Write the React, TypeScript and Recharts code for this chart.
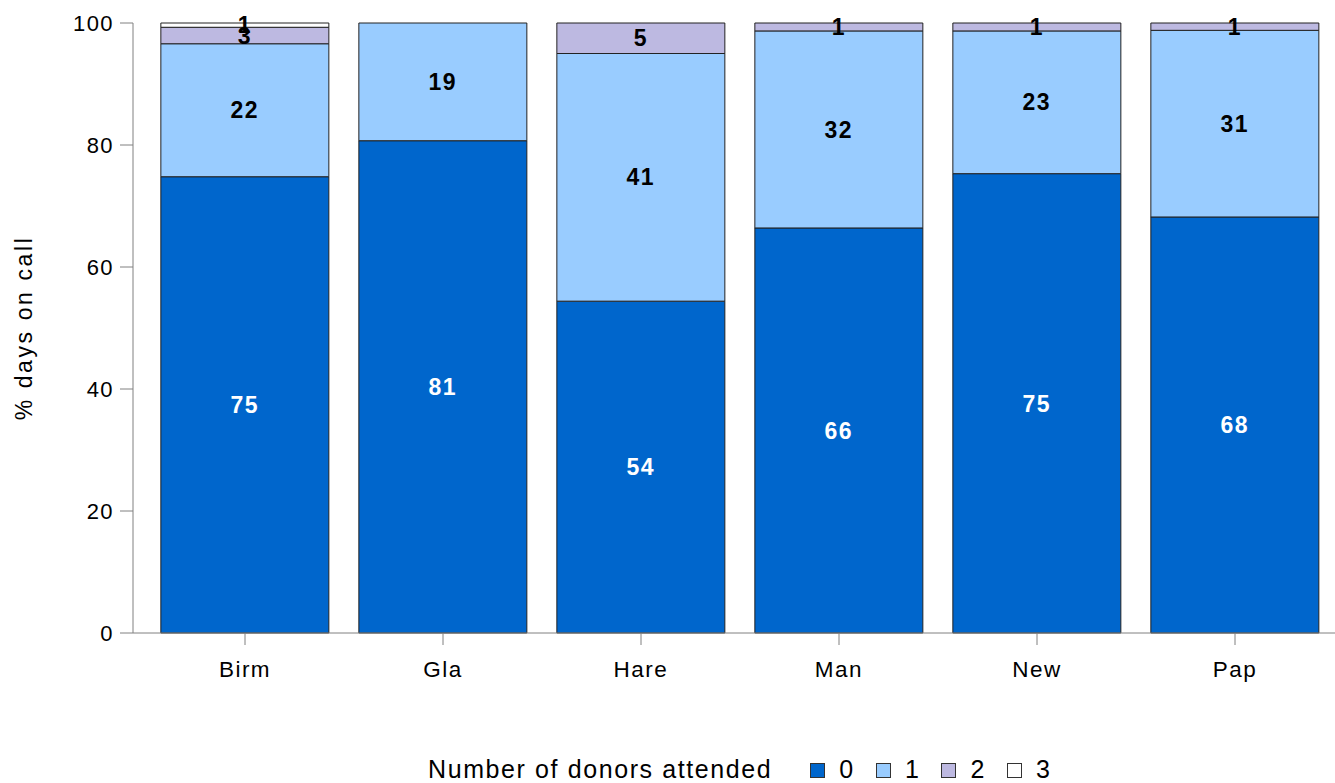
import React from "react";
import {
  BarChart,
  Bar,
  XAxis,
  YAxis,
  Legend,
  LabelList,
} from "recharts";

// Sites and share of on-call days by number of donors attended
const sites = ["Birm", "Gla", "Hare", "Man", "New", "Pap"];
const donors0 = [74.8, 80.7, 54.4, 66.4, 75.3, 68.2];
const donors1 = [21.8, 19.3, 40.6, 32.3, 23.4, 30.6];
const donors2 = [2.7, 0, 5.0, 1.3, 1.3, 1.2];
const donors3 = [0.7, 0, 0, 0, 0, 0];
const yTicks = [0, 20, 40, 60, 80, 100];

const seriesKeys = ["d0", "d1", "d2", "d3"];
const seriesNames = ["0", "1", "2", "3"];
const seriesColors = ["#0066CC", "#99CCFF", "#BDB9E1", "#FFFFFF"];
const labelColors = ["#FFFFFF", "#000000", "#000000", "#000000"];

const data = sites.map((site, i) => ({
  site,
  d0: donors0[i],
  d1: donors1[i],
  d2: donors2[i],
  d3: donors3[i],
}));

const FONT = "'Liberation Sans', Arial, sans-serif";

const LegendContent = () => (
  <div
    style={{
      display: "flex",
      alignItems: "center",
      fontFamily: FONT,
      fontSize: 25,
      letterSpacing: 1.6,
      color: "#000",
      lineHeight: "24px",
      height: 24,
      paddingLeft: 428,
    }}
  >
    <span style={{ marginRight: 38 }}>Number of donors attended</span>
    {seriesNames.map((name, i) => (
      <span
        key={name}
        style={{ display: "flex", alignItems: "center", marginRight: 21 }}
      >
        <span
          style={{
            display: "inline-block",
            width: 13,
            height: 13,
            marginTop: 3,
            background: seriesColors[i],
            border: "1px solid #333",
            marginRight: 14,
          }}
        />
        <span>{name}</span>
      </span>
    ))}
  </div>
);

export default function App() {
  return (
    <div style={{ position: "absolute", left: 0, top: 0, width: 1335, height: 783, background: "#fff" }}>
      <BarChart
        width={1335}
        height={783}
        data={data}
        margin={{ top: 23, right: 0, bottom: 66, left: 0 }}
        barCategoryGap="7.5%"
      >
        <XAxis
          dataKey="site"
          stroke="#808080"
          tickSize={12}
          tickMargin={16}
          height={60}
          padding={{ left: 13, right: 1 }}
          tick={{ fill: "#000", fontSize: 22.5, fontFamily: FONT, letterSpacing: 1.5 }}
          tickLine={{ stroke: "#808080" }}
        />
        <YAxis
          domain={[0, 100]}
          ticks={yTicks}
          width={133}
          stroke="#808080"
          tickSize={13}
          tickMargin={6}
          tick={{ fill: "#000", fontSize: 22, fontFamily: FONT, letterSpacing: 1.4 }}
          label={{
            value: "% days on call",
            angle: -90,
            position: "insideLeft",
            offset: 24,
            style: {
              textAnchor: "middle",
              fill: "#000",
              fontSize: 23,
              letterSpacing: 2.6,
              fontFamily: FONT,
            },
          }}
        />
        <Legend
          verticalAlign="bottom"
          height={24}
          content={<LegendContent />}
          wrapperStyle={{ position: "absolute", top: 757, bottom: "auto", left: 0, width: 1335, height: 24, overflow: "visible" }}
        />
        {seriesKeys.map((key, i) => (
          <Bar
            key={key}
            dataKey={key}
            name={seriesNames[i]}
            stackId="a"
            fill={seriesColors[i]}
            stroke="#222"
            strokeWidth={1}
            isAnimationActive={false}
          >
            <LabelList
              dataKey={key}
              position="center"
              formatter={(v: any) => (v > 0 ? Math.round(v) : "")}
              style={{
                fill: labelColors[i],
                fontSize: 23,
                fontWeight: "bold",
                letterSpacing: 1.5,
                fontFamily: FONT,
              }}
            />
          </Bar>
        ))}
      </BarChart>
    </div>
  );
}
